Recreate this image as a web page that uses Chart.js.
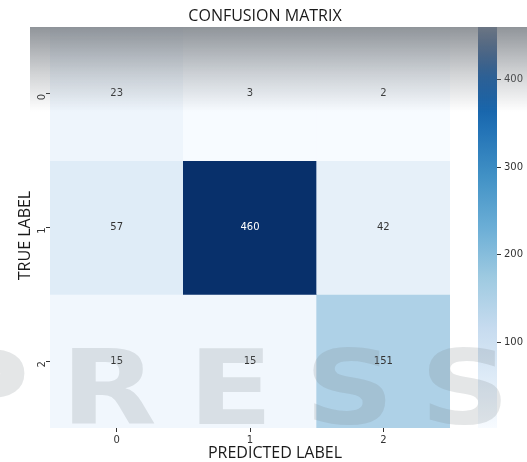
<!DOCTYPE html>
<html>
<head>
<meta charset="utf-8">
<script src="https://cdn.jsdelivr.net/npm/chart.js@4.4.1/dist/chart.umd.min.js"></script>
<style>
  html, body { margin: 0; padding: 0; background: #fff; }
  #wrap { position: relative; width: 527px; height: 462px; overflow: hidden; }
  #matriz { position: absolute; left: 0; top: 0; }
  #barra { position: absolute; left: 470px; top: 0; }
  #nevoa { position: absolute; left: 30px; top: 27px; width: 497px; height: 85px;
    background: linear-gradient(to bottom, rgba(125,130,136,0.85), rgba(125,130,136,0.35) 55%, rgba(125,130,136,0)); pointer-events: none; }
  #marca { position: absolute; left: -62px; top: 327px; font: bold 104px "DejaVu Sans"; letter-spacing: 26px;
    color: rgba(120,128,136,0.2); white-space: nowrap; pointer-events: none;
    transform: scaleX(1.2); transform-origin: 0 0; }
</style>
</head>
<body>
<div id="wrap">
  <canvas id="matriz" width="527" height="462"></canvas>
  <canvas id="barra" width="57" height="462"></canvas>
  <div id="nevoa"></div>
  <div id="marca">PRESS</div>
</div>
<script>
// classes e contagens (linha = verdadeiro, coluna = previsto)
const classes = ["0", "1", "2"];
const linha0 = [23, 3, 2];
const linha1 = [57, 460, 42];
const linha2 = [15, 15, 151];
const ticksBarra = [100, 200, 300, 400];

const matriz = [linha0, linha1, linha2];
const vmin = Math.min(...matriz.flat());
const vmax = Math.max(...matriz.flat());

// paleta Blues (matplotlib)
const blues = ["#f7fbff", "#deebf7", "#c6dbef", "#9ecae1", "#6baed6", "#4292c6", "#2171b5", "#08519c", "#08306b"];
function hexRgb(h) { return [1, 3, 5].map(i => parseInt(h.slice(i, i + 2), 16)); }
function corBlues(v) {
  const t = Math.max(0, Math.min(1, (v - vmin) / (vmax - vmin))) * (blues.length - 1);
  const i = Math.min(Math.floor(t), blues.length - 2);
  const f = t - i;
  const a = hexRgb(blues[i]), b = hexRgb(blues[i + 1]);
  const c = a.map((x, k) => Math.round(x + (b[k] - x) * f));
  return `rgb(${c[0]},${c[1]},${c[2]})`;
}

const corTexto = "#333";
const fonteTick = { family: "DejaVu Sans", size: 10 };
const fonteTitulo = "16px 'Open Sans'";

// numeros dentro das celulas
const anotacoes = {
  id: "anotacoes",
  afterDatasetsDraw(chart) {
    const ctx = chart.ctx;
    ctx.save();
    ctx.font = "10px 'DejaVu Sans'";
    ctx.textAlign = "center";
    ctx.textBaseline = "middle";
    chart.data.datasets.forEach((ds, i) => {
      chart.getDatasetMeta(i).data.forEach((el, j) => {
        const v = ds.valores[j];
        ctx.fillStyle = v > (vmin + vmax) / 2 ? "#fff" : corTexto;
        ctx.fillText(String(v), el.x, (el.y + el.base) / 2);
      });
    });
    ctx.restore();
  }
};

// titulo e nomes dos eixos (um pouco deslocados do centro, como no original)
const textos = {
  id: "textos",
  afterDraw(chart) {
    const { ctx, chartArea: a } = chart;
    ctx.save();
    ctx.font = fonteTitulo;
    ctx.fillStyle = "#1a1a1a";
    ctx.textAlign = "center";
    ctx.textBaseline = "middle";
    ctx.fillText("CONFUSION MATRIX", (a.left + a.right) / 2 + 15, a.top - 11);
    ctx.fillText("PREDICTED LABEL", (a.left + a.right) / 2 + 25, a.bottom + 25);
    ctx.translate(25, (a.top + a.bottom) / 2 + 8);
    ctx.rotate(-Math.PI / 2);
    ctx.fillText("TRUE LABEL", 0, 0);
    ctx.restore();
  }
};

// cada linha da matriz vira uma pilha de barras de altura 1
new Chart(document.getElementById("matriz"), {
  type: "bar",
  data: {
    labels: classes,
    datasets: matriz.map((linha, i) => ({
      label: classes[i],
      data: linha.map(() => 1),
      valores: linha,
      backgroundColor: linha.map(corBlues),
      borderWidth: 0,
      barPercentage: 1,
      categoryPercentage: 1
    }))
  },
  options: {
    responsive: false,
    animation: false,
    layout: { padding: { right: 77, top: 27 } },
    plugins: {
      legend: { display: false },
      tooltip: { enabled: false },
      title: { display: false }
    },
    scales: {
      x: {
        stacked: true,
        border: { display: false },
        grid: { offset: false, drawOnChartArea: false, drawTicks: true, tickLength: 4, tickColor: corTexto },
        ticks: { color: corTexto, font: fonteTick, padding: 2, maxRotation: 0 },
        afterFit(s) { s.height = 34; }
      },
      y: {
        stacked: true,
        reverse: true,
        min: 0,
        max: 3,
        border: { display: false },
        grid: { drawOnChartArea: false, drawTicks: true, tickLength: 4, tickColor: corTexto },
        afterBuildTicks(s) { s.ticks = classes.map((c, i) => ({ value: i + 0.5 })); },
        ticks: {
          color: corTexto, font: fonteTick, padding: 4, minRotation: 90, maxRotation: 90,
          callback: v => classes[Math.floor(v)]
        },
        afterFit(s) { s.width = 50; }
      }
    }
  },
  plugins: [anotacoes, textos]
});

// barra de cores
new Chart(document.getElementById("barra"), {
  type: "bar",
  data: {
    labels: [""],
    datasets: [{
      data: [[vmin, vmax]],
      borderWidth: 0,
      barPercentage: 1,
      categoryPercentage: 1,
      backgroundColor(ctx) {
        const area = ctx.chart.chartArea;
        if (!area) return blues[4];
        const g = ctx.chart.ctx.createLinearGradient(0, area.bottom, 0, area.top);
        blues.forEach((c, i) => g.addColorStop(i / (blues.length - 1), c));
        return g;
      }
    }]
  },
  options: {
    responsive: false,
    animation: false,
    layout: { padding: { left: 8, top: 27, bottom: 34 } },
    plugins: { legend: { display: false }, tooltip: { enabled: false } },
    scales: {
      x: { display: false },
      y: {
        position: "right",
        min: vmin,
        max: vmax,
        border: { display: false },
        grid: { drawOnChartArea: false, drawTicks: true, tickLength: 4, tickColor: corTexto },
        afterBuildTicks(s) { s.ticks = ticksBarra.map(v => ({ value: v })); },
        ticks: { color: corTexto, font: fonteTick, padding: 3 },
        afterFit(s) { s.width = 30; }
      }
    }
  }
});
</script>
</body>
</html>
